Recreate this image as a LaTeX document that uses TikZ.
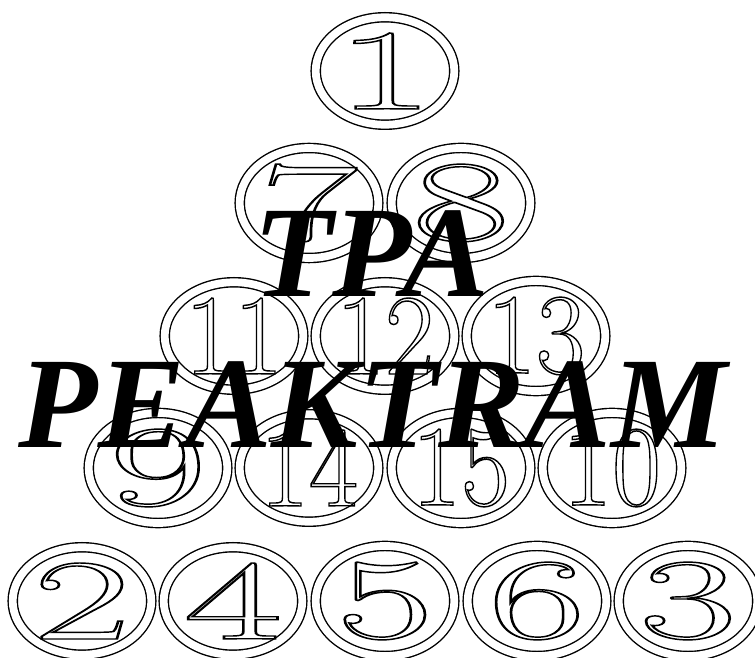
\documentclass[tikz,border=0pt]{standalone}
\usepackage{fontspec}
\usepackage{graphicx}
\usetikzlibrary{shapes.geometric}

\newfontfamily\titlefont{Liberation Serif}
\newcommand{\hollow}[1]{\special{pdf:literal direct 1 Tr 0.85 w}#1\special{pdf:literal direct 0 Tr}}
\newcommand{\coinnum}[1]{\resizebox{1.96cm}{1.52cm}{\fontsize{68}{80}\selectfont\hollow{#1}}}

\begin{document}
\begin{tikzpicture}[x=0.02cm, y=-0.02cm,
    coin/.style={ellipse, draw, double, line width=0.8pt, double distance=4.4pt,
      inner sep=0pt, minimum width=2.64cm, minimum height=2.12cm},
    word/.style={anchor=base, font=\titlefont\fontsize{74}{88}\selectfont\bfseries\itshape}]
  \useasboundingbox (0,0) rectangle (755,658);
  % top
  \node[coin] (n1) at (385,71) {\coinnum{1}};
  \node[coin] (n7) at (309,203) {\coinnum{7}};
  \node[coin] (n8) at (461,203) {\coinnum{8}};
  \node[coin] (n11) at (234,336) {\coinnum{11}};
  \node[coin] (n12) at (385,336) {\coinnum{12}};
  \node[coin] (n13) at (536,336) {\coinnum{13}};
  \node[coin] (n9) at (158,468) {\coinnum{9}};
  \node[coin] (n14) at (309,468) {\coinnum{14}};
  \node[coin] (n15) at (461,468) {\coinnum{15}};
  \node[coin] (n10) at (612,468) {\coinnum{10}};
  % bottom row
  \node[coin] (n2) at (82,601) {\coinnum{2}};
  \node[coin] (n4) at (233,601) {\coinnum{4}};
  \node[coin] (n5) at (385,601) {\coinnum{5}};
  \node[coin] (n6) at (537,601) {\coinnum{6}};
  \node[coin] (n3) at (688,601) {\coinnum{3}};
  % title over the coins
  \node[word] (t0) at (371,297) {TPA};
  \node[word] (t1) at (373,448) {PEAKTRAM};
\end{tikzpicture}
\end{document}
